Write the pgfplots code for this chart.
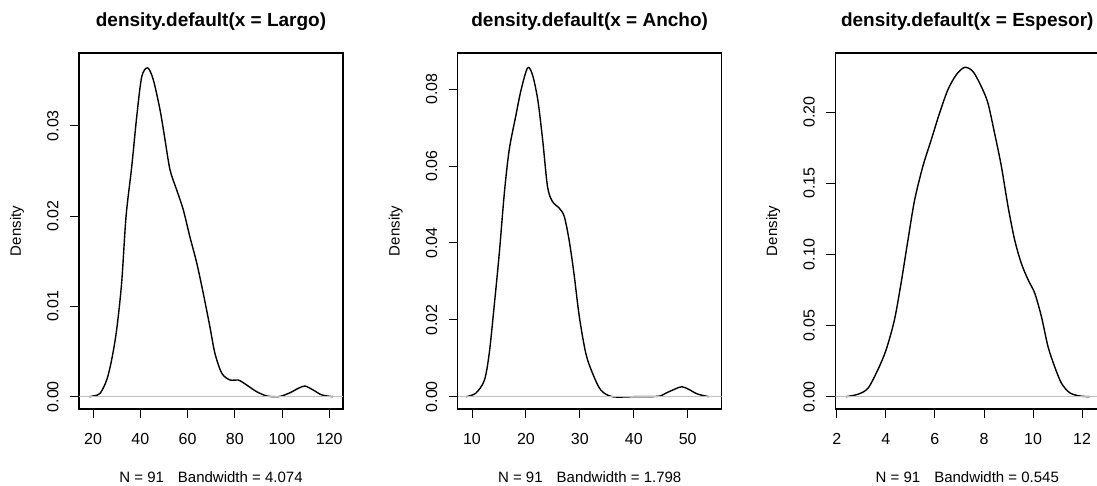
\documentclass[border=0pt]{standalone}
\usepackage{pgfplots}
\pgfplotsset{compat=1.18}
\usepackage{fontspec}
\setmainfont{Liberation Sans}
\definecolor{rgray}{RGB}{190,190,190}
\pgfplotsset{
  rdens/.style={
    scale only axis, width=264pt, height=356pt,
    axis line style={line width=1.5pt, black},
    tick align=outside, major tick length=9pt,
    xtick pos=bottom, ytick pos=left,
    major tick style={line width=0.9pt, black},
    tick label style={font=\fontsize{16}{19}\selectfont},
    /pgf/number format/assume math mode=true,
    scaled y ticks=false, scaled x ticks=false,
    xticklabel shift=12pt, yticklabel shift=8pt,
    yticklabel style={rotate=90, anchor=south, /pgf/number format/.cd, fixed, fixed zerofill, precision=2},
    xticklabel style={/pgf/number format/.cd, fixed, precision=0},
    title style={font=\fontsize{19}{22}\selectfont\bfseries, at={(axis description cs:0.5,1)}, anchor=center, yshift=25pt},
    xlabel style={font=\fontsize{15}{18}\selectfont, at={(axis description cs:0.5,0)}, anchor=center, yshift=-68pt},
    ylabel style={font=\fontsize{15}{18}\selectfont, at={(axis description cs:-0.235,0.5)}, anchor=center},
    ylabel={Density},
    clip=true,
  },
  dcurve/.style={black, line width=1.4pt, smooth, tension=0.5, mark=none},
  zline/.style={line width=1.2pt, color=rgray, mark=none},
}
\begin{document}
\begin{tikzpicture}
\useasboundingbox (0,0) rectangle (1097pt,486pt);
% Panel 1
\begin{axis}[rdens, at={(79pt,77pt)}, anchor=south west,
  xmin=14.07, xmax=125.8, ymin=-0.00136, ymax=0.03805,
  xtick={20,40,60,80,100,120}, ytick={0,0.01,0.02,0.03},
  title={density.default(x = Largo)},
  xlabel={N = 91\hspace{14pt}Bandwidth = 4.074}]
\addplot[dcurve] coordinates {
(18.4,0) (20.5,0.0001) (23.0,0.00037) (25.8,0.00185) (27.9,0.0041) (30.0,0.0074)
(32.1,0.01255) (34.0,0.0200) (36.4,0.0255) (38.5,0.0310) (40.6,0.0354)
(43.1,0.0364) (45.5,0.0351) (48.4,0.0317) (50.5,0.0284) (52.6,0.0251)
(55.4,0.0229) (58.2,0.0207) (61.0,0.0177) (63.9,0.0148) (66.7,0.0114)
(69.5,0.0077) (71.6,0.0048) (74.5,0.0026) (78.0,0.00185) (81.5,0.00185)
(85.0,0.0013) (89.3,0.00055) (93.5,0.00008) (97.0,0.0) (99.5,0.00005) (103.4,0.00044)
(106.9,0.00093) (109.7,0.00118) (113.2,0.00074) (116.8,0.0002) (121.5,0)
};
\addplot[zline] coordinates {(14.07,0) (125.8,0)};
\end{axis}
% Panel 2
\begin{axis}[rdens, at={(457.7pt,77pt)}, anchor=south west,
  xmin=7.35, xmax=56.3, ymin=-0.0032, ymax=0.0894,
  xtick={10,20,30,40,50}, ytick={0,0.02,0.04,0.06,0.08},
  title={density.default(x = Ancho)},
  xlabel={N = 91\hspace{14pt}Bandwidth = 1.798}]
\addplot[dcurve] coordinates {
(8.9,0) (10.7,0.0009) (12.3,0.0043) (13.2,0.0113) (14.1,0.0234) (15.06,0.0373)
(16.0,0.0530) (16.9,0.0642) (18.1,0.0729) (19.1,0.0798) (20.3,0.0855)
(21.2,0.0838) (22.2,0.0772) (23.1,0.0668) (24.0,0.0547) (24.9,0.0508)
(26.2,0.0490) (27.1,0.0469) (28.0,0.0408) (28.9,0.0321) (29.9,0.0208)
(31.1,0.0113) (32.35,0.0061) (33.9,0.0017) (36.05,0) (40,0) (44.5,0.0001)
(45.9,0.0009) (47.5,0.0019) (48.9,0.0026) (50.2,0.0019) (51.8,0.0007) (53.9,0)
};
\addplot[zline] coordinates {(7.35,0) (56.3,0)};
\end{axis}
% Panel 3
\begin{axis}[rdens, at={(835.3pt,77pt)}, anchor=south west,
  xmin=1.94, xmax=12.7, ymin=-0.00865, ymax=0.2416,
  xtick={2,4,6,8,10,12}, ytick={0,0.05,0.10,0.15,0.20},
  title={density.default(x = Espesor)},
  xlabel={N = 91\hspace{14pt}Bandwidth = 0.545}]
\addplot[dcurve] coordinates {
(2.38,0) (2.86,0.0017) (3.27,0.0059) (3.67,0.0188) (4.01,0.0329) (4.35,0.0540)
(4.62,0.0798) (4.90,0.1100) (5.17,0.1380) (5.51,0.1620) (5.85,0.1806)
(6.19,0.1994) (6.53,0.2158) (6.87,0.2263) (7.21,0.2315) (7.55,0.2286)
(7.89,0.2180) (8.16,0.2064) (8.43,0.1853) (8.71,0.1618) (8.98,0.1337)
(9.25,0.1102) (9.52,0.0938) (9.80,0.0821) (10.07,0.0727) (10.34,0.0563)
(10.61,0.0352) (10.88,0.0211) (11.16,0.0094) (11.49,0.0028) (11.90,0.0005) (12.31,0)
};
\addplot[zline] coordinates {(1.94,0) (12.7,0)};
\end{axis}
\end{tikzpicture}
\end{document}
